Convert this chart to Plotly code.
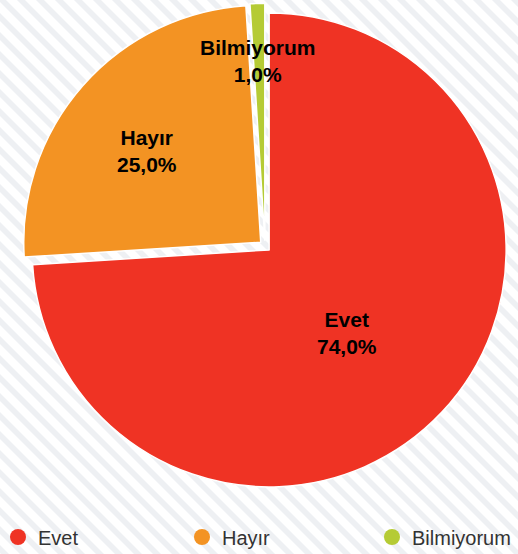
import math
import plotly.graph_objects as go

# ---- data ----
categories = ["Evet", "Hayır", "Bilmiyorum"]
values = [74.0, 25.0, 1.0]
colors = ["#EF3324", "#F39323", "#B5CB35"]

# ---- layout constants (pixels) ----
W, H = 518, 554
CX, CY, R = 265, 246, 237
PULL = 0.024
label_frac = [0.50, 0.64, 0.78]
label_nudge = [(-4, 6), (-4, 5), (-1, 0)]
legend_x_px = [-2, 182, 372]
LEGEND_Y = 537


def px(x):
    return x / W


def py(y):
    return 1 - y / H


side = 2 * R * (1 + PULL)
dom_x = [px(CX - side / 2), px(CX + side / 2)]
dom_y = [py(CY + side / 2), py(CY - side / 2)]

fig = go.Figure()
fig.add_trace(go.Pie(
    labels=categories, values=values, sort=False, direction="clockwise", rotation=0,
    marker=dict(colors=colors, line=dict(color="white", width=1.5)),
    pull=[PULL] * len(values), textinfo="none", hoverinfo="label+percent",
    showlegend=False, domain=dict(x=dom_x, y=dom_y),
))

legend_names = ["legend", "legend2", "legend3"]
legend_font = dict(family="Liberation Sans, Arial, sans-serif", size=20, color="#333333")
legends = {}
for c, col, ln, lx in zip(categories, colors, legend_names, legend_x_px):
    fig.add_trace(go.Scatter(x=[None], y=[None], mode="markers", name=c, legend=ln,
                             marker=dict(symbol="circle", size=16, color=col)))
    legends[ln] = dict(orientation="h", x=px(lx), xanchor="left", y=py(LEGEND_Y),
                       yanchor="middle", bgcolor="rgba(0,0,0,0)", font=legend_font)

# labels placed along slice bisectors
total = sum(values)
annotations = []
cum = 0.0
for c, v, f, (nx, ny) in zip(categories, values, label_frac, label_nudge):
    mid = (cum + v / 2) / total * 2 * math.pi
    cum += v
    x = CX + math.sin(mid) * R * f + nx
    y = CY - math.cos(mid) * R * f + ny
    pct = f"{v / total * 100:.1f}".replace(".", ",") + "%"
    annotations.append(dict(
        x=px(x), y=py(y), xref="paper", yref="paper", showarrow=False,
        xanchor="center", yanchor="middle",
        text=f"<b>{c}</b><br><b>{pct}</b>", align="center",
        font=dict(family="Liberation Sans, Arial, sans-serif", size=21, color="#000000"),
    ))

# diagonal striped background
P, SW, OFF = 19, 8, 17
parts = []
c = OFF - ((OFF + H + 2 * P) // P) * P
while c < W + P:
    pts = [(c, 0), (c + SW, 0), (c + SW + H, H), (c + H, H)]
    parts.append("M " + " L ".join(f"{px(a):.5f},{py(b):.5f}" for a, b in pts) + " Z")
    c += P
stripes = dict(type="path", xref="paper", yref="paper", path=" ".join(parts),
               fillcolor="#EEF0F3", line=dict(width=0), layer="below")

fig.update_layout(
    width=W, height=H,
    margin=dict(l=0, r=0, t=0, b=0, autoexpand=False),
    paper_bgcolor="white", plot_bgcolor="rgba(0,0,0,0)",
    xaxis=dict(visible=False), yaxis=dict(visible=False),
    shapes=[stripes],
    annotations=annotations,
    **legends,
)

fig.write_html("out.html", config={"displayModeBar": False},
               post_script="document.body.style.margin='0';document.body.style.overflow='hidden';")
